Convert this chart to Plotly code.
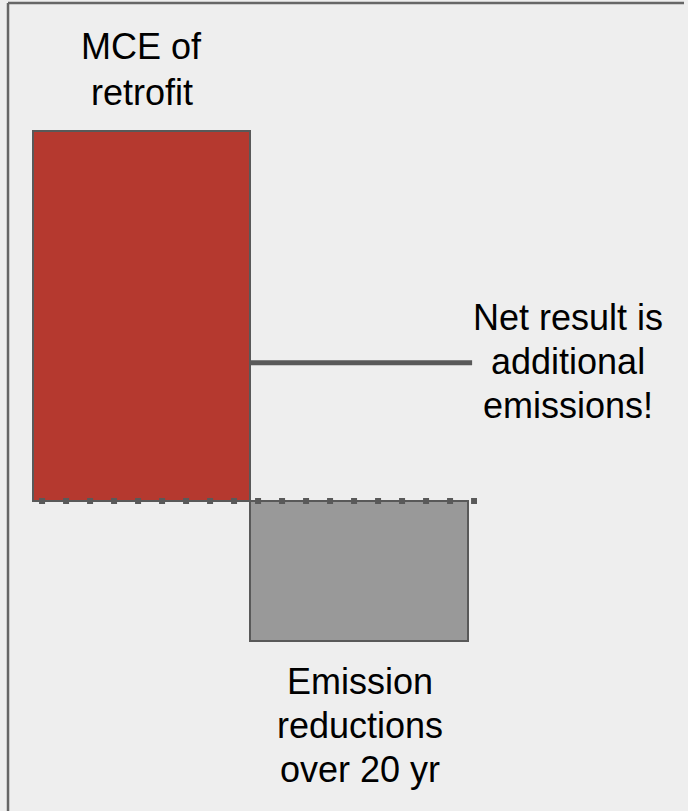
import plotly.graph_objects as go

# ---- data (relative emission units) ----
categories = ["MCE of retrofit", "Emission reductions over 20 yr"]
bar_label_lines = [["MCE of", "retrofit"], ["Emission", "reductions", "over 20 yr"]]
values = [100, -37.8]
net_line_level = 37.4
net_label_lines = ["Net result is", "additional", "emissions!"]

x_pos = [0, 1]
bar_colors = ["#B5392F", "#999999"]

# pixel helpers for placing decorations/text (layout only)
X0_PX, X_SCALE = 141.5, 217.5
Y0_PX, Y_SCALE = 501.0, 3.7
def xv(px):
    return (px - X0_PX) / X_SCALE
def yv(py):
    return (Y0_PX - py) / Y_SCALE

fig = go.Figure()

# slide frame border: left edge and top edge
fig.add_trace(go.Scatter(
    x=[xv(8), xv(8)], y=[yv(811), yv(3)], mode="lines",
    line=dict(color="#666666", width=2.5), hoverinfo="skip", showlegend=False,
))
fig.add_trace(go.Scatter(
    x=[xv(8), xv(684)], y=[yv(3), yv(3)], mode="lines",
    line=dict(color="#666666", width=2.5), hoverinfo="skip", showlegend=False,
))

fig.add_trace(go.Bar(
    x=x_pos, y=values, width=1.0,
    marker=dict(color=bar_colors, line=dict(color="#595959", width=2)),
    hoverinfo="skip", showlegend=False,
))

# net-result connector line
fig.add_trace(go.Scatter(
    x=[0.5, 1.52], y=[net_line_level, net_line_level], mode="lines",
    line=dict(color="#595959", width=5), hoverinfo="skip", showlegend=False,
))

# dotted baseline
fig.add_trace(go.Scatter(
    x=[-0.471, 1.5425], y=[0, 0], mode="lines",
    line=dict(color="#595959", width=6, dash="6px,18px"),
    hoverinfo="skip", showlegend=False,
))

font = dict(family="Arial, Liberation Sans, sans-serif", size=36, color="#000000")
OFFSET = 14  # baseline -> box center

def add_lines(lines, cx_px, first_baseline, spacing):
    for i, t in enumerate(lines):
        fig.add_annotation(x=xv(cx_px), y=yv(first_baseline + i * spacing - OFFSET),
                           text=t, showarrow=False, font=font,
                           xanchor="center", yanchor="middle", align="center")

add_lines(bar_label_lines[0], 141.5, 60, 46)
add_lines(net_label_lines, 567.5, 331, 44)
add_lines(bar_label_lines[1], 359.5, 695, 44)

fig.update_layout(
    width=688, height=811,
    margin=dict(l=0, r=0, t=0, b=0),
    paper_bgcolor="#EEEEEE", plot_bgcolor="#EEEEEE",
    xaxis=dict(range=[-0.6506, 2.5126], visible=False, fixedrange=True),
    yaxis=dict(range=[-83.78, 135.41], visible=False, fixedrange=True),
    bargap=0,
)

fig.write_html("out.html")
